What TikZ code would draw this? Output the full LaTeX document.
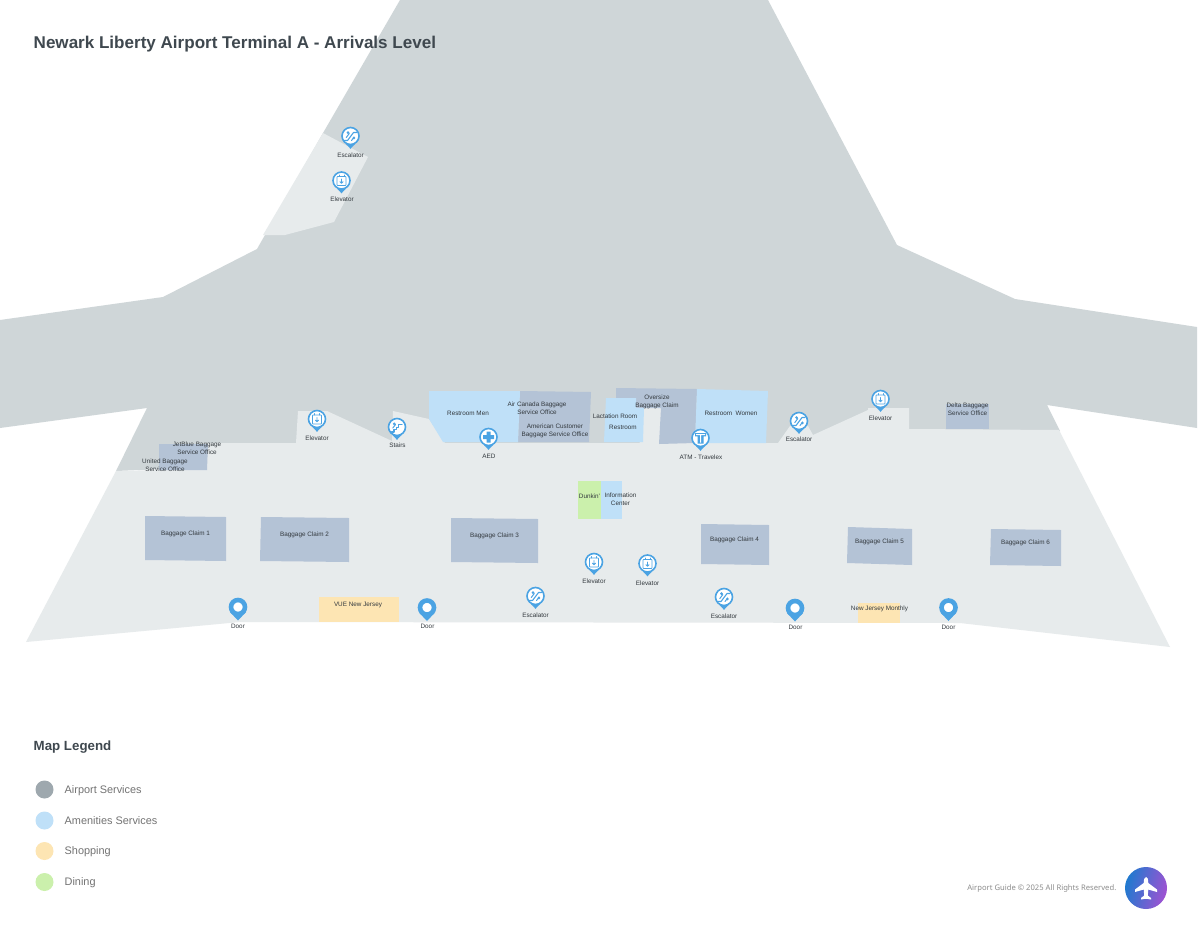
\documentclass[tikz,border=0pt]{standalone}
\usepackage{fontspec}
\setmainfont{Liberation Sans}
\newfontfamily\footfont{Noto Sans}
\definecolor{darkzone}{HTML}{CFD6D8}
\definecolor{lightzone}{HTML}{E7EBEC}
\definecolor{svcblue}{HTML}{B4C3D6}
\definecolor{amen}{HTML}{BFE0F8}
\definecolor{shop}{HTML}{FDE5B3}
\definecolor{dine}{HTML}{CBF0AC}
\definecolor{legendgrey}{HTML}{9EA8AE}
\definecolor{pinblue}{HTML}{4BA3E3}
\definecolor{inktext}{HTML}{33393E}
\definecolor{titletext}{HTML}{3F484F}
\definecolor{logoleft}{HTML}{1F7ACF}
\definecolor{logoright}{HTML}{A052D2}
\tikzset{
  maplabel/.style={font=\fontsize{6.35}{8}\selectfont, text=inktext, align=center, inner sep=0pt},
  legendlabel/.style={font=\fontsize{10.9}{13}\selectfont, text=black!55, anchor=west, inner sep=0pt, text height=8pt, text depth=2.5pt},
  legenddot/.style={circle, minimum size=18pt, inner sep=0pt},
  pinglyph/.style={draw=pinblue, line width=.8pt, line cap=round, line join=round},
}
\newcommand{\mapglyphelev}{%
  \draw[pinglyph, rounded corners=.6pt] (-4.5,-4) rectangle (4.5,5);
  \draw[pinglyph] (-2.5,-5.5) -- (-2.5,-4) (2.5,-5.5) -- (2.5,-4);
  \draw[pinglyph] (0,-1.5) -- (0,2.8) (-1.5,1.2) -- (0,2.8) -- (1.5,1.2);}
\newcommand{\mapglyphesc}{%
  \draw[pinglyph, line width=1.1pt] (-6,4.5) -- (-3,4.5) -- (3,-3.5) -- (6,-3.5);
  \fill[pinblue] (-2.5,-3.4) circle (1.4) (3.4,2) circle (1.4);
  \draw[pinglyph, line width=1pt] (-4.2,1.5) -- (-1.2,-2.5) (1,4.5) -- (3.6,1);}
\newcommand{\mapglyphstairs}{%
  \draw[pinglyph, line width=1.1pt] (-5.5,5) -- (-3,5) -- (-3,2.6) -- (-.6,2.6) -- (-.6,.2) -- (1.8,.2) -- (1.8,-2.2) -- (5,-2.2);
  \fill[pinblue] (-2.8,-3.2) circle (1.4);
  \draw[pinglyph, line width=1pt] (-4.2,1) -- (-1.5,-2.5);}
\newcommand{\mapglyphplus}{%
  \fill[pinblue] (-2,-5.5) rectangle (2,5.5) (-5.5,-2) rectangle (5.5,2);}
\newcommand{\mapglyphatm}{%
  \fill[pinblue] (-5.5,-5) rectangle (5.5,-1.6) (-3,-2) rectangle (3,5.5);
  \fill[white] (-4.5,-3.8) rectangle (4.5,-3) (-.5,-3.2) rectangle (.5,4.5);}
\newcommand{\pin}[4]{%
  \fill[pinblue] ($(#2,#3)+(-4.5,8)$) -- ($(#2,#3)+(0,12.8)$) -- ($(#2,#3)+(4.5,8)$) -- cycle;
  \node[circle, draw=pinblue, fill=white, line width=1.6pt, minimum size=17pt, inner sep=0pt] (#1) at (#2,#3) {};
  \begin{scope}[shift={(#2,#3)}]#4\end{scope}}
\newcommand{\doorpin}[3]{%
  \fill[pinblue] ($(#2,#3)+(-8,5)$) -- ($(#2,#3)+(0,13.5)$) -- ($(#2,#3)+(8,5)$) -- cycle;
  \node[circle, draw=pinblue, fill=white, line width=4.6pt, minimum size=14pt, inner sep=0pt] (#1) at (#2,#3) {};}
\usetikzlibrary{calc}
\begin{document}
\begin{tikzpicture}[x=1pt,y=-1pt]
\useasboundingbox (0,0) rectangle (1200,927);
\fill[white] (0,0) rectangle (1200,927);
\fill[darkzone] (400,0) -- (768,0) -- (897,245) -- (1015,299) -- (1197,327) -- (1197,428) -- (1047,405) -- (1060,431) -- (116,471) -- (147,408) -- (0,428) -- (0,320) -- (163,297) -- (257,249) -- (323,133) -- cycle;
\fill[lightzone] (116,471) -- (159,470) -- (207,443) -- (296,443) -- (298,411) -- (327,411) -- (392,441) -- (393,411) -- (429,419) -- (445,443) -- (778,443) -- (790,426) -- (808,426) -- (813,435) -- (868,410) -- (868,408) -- (909,408) -- (909,429) -- (1059,430) -- (1170,647) -- (960,623) -- (240,622) -- (26,642) -- cycle;
\fill[lightzone] (323,133) -- (368,157) -- (334,222) -- (285,235) -- (263,235) -- cycle;
\fill[lightzone] (636,408) -- (662,408) -- (660,445) -- (640,445) -- cycle;
\fill[svcblue] (159,444) -- (208,444) -- (207,470) -- (159,470) -- cycle;
\fill[svcblue] (520,391) -- (591,392) -- (589,442) -- (518,442) -- cycle;
\fill[svcblue] (616,388) -- (697,389) -- (695,443) -- (659,444) -- (661,408) -- (636,408) -- (636,398) -- (616,398) -- cycle;
\fill[svcblue] (946,404) -- (989,404) -- (989,429) -- (946,429) -- cycle;
\fill[svcblue] (145,516) -- (226,517) -- (226,561) -- (145,560) -- cycle;
\fill[svcblue] (261,517) -- (349,518) -- (349,562) -- (260,561) -- cycle;
\fill[svcblue] (451,518) -- (538,519) -- (538,563) -- (451,562) -- cycle;
\fill[svcblue] (701,524) -- (769,525) -- (769,565) -- (701,564) -- cycle;
\fill[svcblue] (848,527) -- (912,529) -- (912,565) -- (847,563) -- cycle;
\fill[svcblue] (991,529) -- (1061,530) -- (1061,566) -- (990,565) -- cycle;
\fill[amen] (429,391) -- (520,391) -- (518,442) -- (443,442) -- (429,419) -- cycle;
\fill[amen] (606,398) -- (636,398) -- (636,408) -- (644,408) -- (643,442) -- (604,442) -- cycle;
\fill[amen] (697,389) -- (768,391) -- (766,443) -- (695,443) -- cycle;
\fill[amen] (601,481) rectangle (622,519);
\fill[dine] (578,481) rectangle (601,519);
\fill[shop] (319,597) rectangle (399,622);
\fill[shop] (858,603) rectangle (900,623);
\pin{pA}{350.5}{136}{\mapglyphesc}
\pin{pB}{341.5}{180.5}{\mapglyphelev}
\pin{pC}{317}{419}{\mapglyphelev}
\pin{pD}{397}{427}{\mapglyphstairs}
\pin{pE}{488.5}{437}{\mapglyphplus}
\pin{pF}{700.5}{438}{\mapglyphatm}
\pin{pG}{799}{421}{\mapglyphesc}
\pin{pH}{880.5}{399}{\mapglyphelev}
\pin{pI}{594}{562}{\mapglyphelev}
\pin{pJ}{647.5}{563.5}{\mapglyphelev}
\pin{pK}{535.5}{596}{\mapglyphesc}
\pin{pL}{724}{597}{\mapglyphesc}
\doorpin{dA}{238}{607}
\doorpin{dB}{427}{607.5}
\doorpin{dC}{795}{608}
\doorpin{dD}{948.5}{607.5}
\node[maplabel] (l1) at (350.5,155.5) {Escalator};
\node[maplabel] (l2) at (342,199) {Elevator};
\node[maplabel] (l3) at (197,448) {JetBlue Baggage\\Service Office};
\node[maplabel] (l4) at (165,465) {United Baggage\\Service Office};
\node[maplabel] (l5) at (317,438.5) {Elevator};
\node[maplabel] (l6) at (397.5,445.5) {Stairs};
\node[maplabel] (l7) at (468,413) {Restroom Men};
\node[maplabel] (l8) at (537,408.5) {Air Canada Baggage\\Service Office};
\node[maplabel] (l9) at (555,431) {American Customer\\Baggage Service Office};
\node[maplabel] (l10) at (489,456) {AED};
\node[maplabel] (l11) at (615,416) {Lactation Room};
\node[maplabel] (l12) at (623,427.5) {Restroom};
\node[maplabel] (l13) at (657,402) {Oversize\\Baggage Claim};
\node[maplabel] (l14) at (731,413) {Restroom\ \ Women};
\node[maplabel] (l15) at (701,457.5) {ATM - Travelex};
\node[maplabel] (l16) at (799,439.5) {Escalator};
\node[maplabel] (l17) at (880.5,418) {Elevator};
\node[maplabel] (l18) at (967.5,409) {Delta Baggage\\Service Office};
\node[maplabel] (l19) at (589.5,496) {Dunkin'};
\node[maplabel] (l20) at (620.5,499.5) {Information\\Center};
\node[maplabel] (l21) at (185.5,534) {Baggage Claim 1};
\node[maplabel] (l22) at (304.5,535) {Baggage Claim 2};
\node[maplabel] (l23) at (494.5,536) {Baggage Claim 3};
\node[maplabel] (l24) at (734.5,540) {Baggage Claim 4};
\node[maplabel] (l25) at (879.5,542) {Baggage Claim 5};
\node[maplabel] (l26) at (1025.5,543) {Baggage Claim 6};
\node[maplabel] (l27) at (594,581.5) {Elevator};
\node[maplabel] (l28) at (647.5,583) {Elevator};
\node[maplabel] (l29) at (238,626) {Door};
\node[maplabel] (l30) at (358,604.5) {VUE New Jersey};
\node[maplabel] (l31) at (427.5,626.5) {Door};
\node[maplabel] (l32) at (535.5,615.5) {Escalator};
\node[maplabel] (l33) at (724,616) {Escalator};
\node[maplabel] (l34) at (795.5,627) {Door};
\node[maplabel] (l35) at (879.5,608.5) {New Jersey Monthly};
\node[maplabel] (l36) at (948.5,627) {Door};
\node[anchor=west, inner sep=0pt, text=titletext, font=\fontsize{17.05}{20}\bfseries] (title) at (33.5,44) {Newark Liberty Airport Terminal A - Arrivals Level};
\node[anchor=west, inner sep=0pt, text=titletext, font=\fontsize{13.3}{16}\bfseries] (legendtitle) at (33.5,747.5) {Map Legend};
\node[legenddot, fill=legendgrey] (d1) at (44.5,789.5) {};
\node[legenddot, fill=amen] (d2) at (44.5,820.5) {};
\node[legenddot, fill=shop] (d3) at (44.5,851) {};
\node[legenddot, fill=dine] (d4) at (44.5,882) {};
\node[legendlabel] (t1) at (64.5,790.5) {Airport Services};
\node[legendlabel] (t2) at (64.5,821.5) {Amenities Services};
\node[legendlabel] (t3) at (64.5,852) {Shopping};
\node[legendlabel] (t4) at (64.5,882.5) {Dining};
\node[anchor=east, inner sep=0pt, text=black!45, font=\footfont\fontsize{7.65}{9}\selectfont] (foot) at (1116.5,888) {Airport Guide © 2025 All Rights Reserved.};
\shade[left color=logoleft, right color=logoright, shading angle=75] (1146,888) circle (21);
\fill[white, line join=round] (1146,877) .. controls (1148,877) and (1148.3,880) .. (1148.3,883) -- (1157,889.5) -- (1157,892) -- (1148.3,889.5) -- (1147.8,895.5) -- (1151,898) -- (1151,899.5) -- (1146,898.7) -- (1141,899.5) -- (1141,898) -- (1144.2,895.5) -- (1143.7,889.5) -- (1135,892) -- (1135,889.5) -- (1143.7,883) .. controls (1143.7,880) and (1144,877) .. (1146,877) -- cycle;
\end{tikzpicture}
\end{document}
